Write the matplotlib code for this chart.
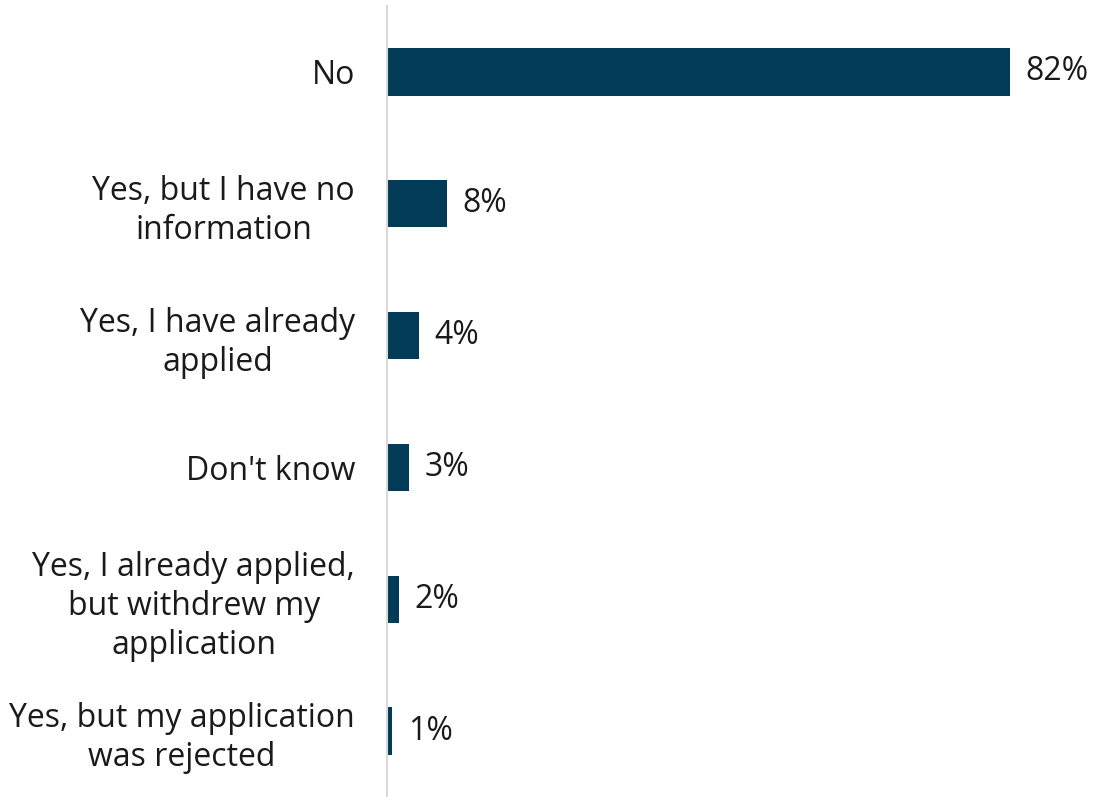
import matplotlib
matplotlib.use("Agg")
import matplotlib.pyplot as plt

categories = ["No", "Yes, but I have no\ninformation", "Yes, I have already\napplied",
              "Don't know", "Yes, I already applied,\nbut withdrew my\napplication",
              "Yes, but my application\nwas rejected"]
values = [82, 7.9, 4.2, 2.9, 1.6, 0.7]
value_labels = ["82%", "8%", "4%", "3%", "2%", "1%"]

plt.rcParams['font.family'] = ['Open Sans', 'DejaVu Sans']

W, H = 1101, 797
fig = plt.figure(figsize=(W / 100, H / 100), dpi=100)
left = 387 / W
ax = fig.add_axes([left, 0, 1 - left, (797 - 6) / H])

y = list(range(len(categories)))
ax.barh(y, values, height=0.36, color="#023B58")
ax.set_ylim(len(categories) - 0.5, -0.5)
ax.set_xlim(0, (W - 387) / 7.6)

for yi, v, lab in zip(y, values, value_labels):
    ax.annotate(lab, (v, yi), xytext=(11, 0), textcoords="offset points",
                va="center", ha="left", fontsize=23, color="#1a1a1a")

ax.set_yticks(y)
ax.set_yticklabels(categories, fontsize=23, color="#1a1a1a", ha="right",
                   multialignment="center", linespacing=1.25)
ax.tick_params(axis="y", length=0, pad=23)
ax.set_xticks([])
for s in ["top", "right", "bottom"]:
    ax.spines[s].set_visible(False)
ax.spines["left"].set_color("#d9d9d9")
ax.spines["left"].set_linewidth(1.5)

fig.savefig("out.png", dpi=100)
